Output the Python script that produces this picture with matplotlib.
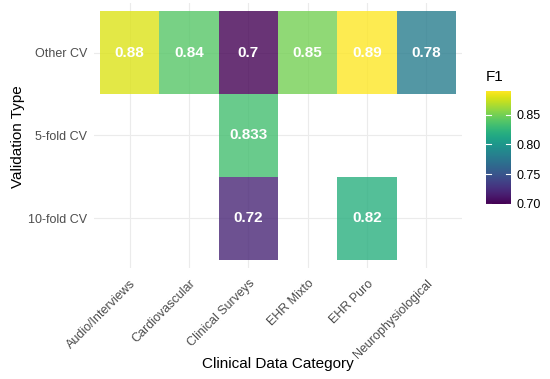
import numpy as np
import matplotlib
matplotlib.use("Agg")
import matplotlib.pyplot as plt
from matplotlib.colors import Normalize
from matplotlib.transforms import ScaledTranslation

plt.rcParams['font.family'] = ['Liberation Sans', 'DejaVu Sans']

# data
categories = ['Audio/Interviews', 'Cardiovascular', 'Clinical Surveys',
              'EHR Mixto', 'EHR Puro', 'Neurophysiological']
validation = ['10-fold CV', '5-fold CV', 'Other CV']

other_cv = [0.88, 0.84, 0.70, 0.85, 0.89, 0.78]
fivefold_cv = [None, None, 0.833, None, None, None]
tenfold_cv = [None, None, 0.72, None, 0.82, None]
labels_other = ['0.88', '0.84', '0.7', '0.85', '0.89', '0.78']
labels_five = [None, None, '0.833', None, None, None]
labels_ten = [None, None, '0.72', None, '0.82', None]

rows = {'10-fold CV': (tenfold_cv, labels_ten),
        '5-fold CV': (fivefold_cv, labels_five),
        'Other CV': (other_cv, labels_other)}

cmap = plt.get_cmap('viridis')
norm = Normalize(vmin=0.70, vmax=0.89)

fig = plt.figure(figsize=(5.5, 3.79), dpi=100)
ax = fig.add_axes([0.171, 0.293, 0.669, 0.699])

for yi, name in enumerate(validation):
    vals, labs = rows[name]
    for xi, v in enumerate(vals):
        if v is None:
            continue
        ax.add_patch(plt.Rectangle((xi - 0.5, yi - 0.5), 1, 1,
                                   facecolor=cmap(norm(v)), alpha=0.8,
                                   edgecolor='none', zorder=2))
        ax.text(xi, yi, labs[xi], color='white', fontweight='bold',
                fontsize=11, ha='center', va='center', zorder=3)

ax.set_xlim(-0.6, 5.6)
ax.set_ylim(-0.6, 2.6)
ax.set_xticks(range(len(categories)))
ax.set_xticklabels(categories, rotation=45, ha='right', va='top',
                   rotation_mode='anchor')
shift = ScaledTranslation(5 / 100, 0, fig.dpi_scale_trans)
for lab in ax.get_xticklabels():
    lab.set_transform(lab.get_transform() + shift)
ax.set_yticks(range(len(validation)))
ax.set_yticklabels(validation)
ax.tick_params(length=0, labelsize=9, labelcolor='#4d4d4d', pad=5)
ax.tick_params(axis='x', pad=7)
ax.grid(True, color='#ebebeb', linewidth=0.8, zorder=0)
ax.set_axisbelow(True)
for s in ax.spines.values():
    s.set_visible(False)

# axis titles placed at fixed figure positions
fig.text(0.506, 0.04, 'Clinical Data Category', fontsize=11,
         ha='center', va='center')
fig.text(0.033, 0.64, 'Validation Type', fontsize=11, rotation=90,
         ha='center', va='center')

# colorbar
cax = fig.add_axes([0.884, 0.462, 0.045, 0.298])
grad = np.linspace(0.70, 0.89, 300).reshape(-1, 1)
cax.imshow(grad, aspect='auto', cmap=cmap, norm=norm, origin='lower',
           extent=[0, 1, 0.70, 0.89])
cb_ticks = [0.70, 0.75, 0.80, 0.85]
for t in cb_ticks:
    cax.plot([0, 0.2], [t, t], color='white', lw=0.8)
    cax.plot([0.8, 1], [t, t], color='white', lw=0.8)
cax.set_xlim(0, 1)
cax.set_ylim(0.70, 0.89)
cax.set_xticks([])
cax.yaxis.tick_right()
cax.set_yticks(cb_ticks)
cax.set_yticklabels(['%.2f' % t for t in cb_ticks])
cax.tick_params(length=0, labelsize=9, pad=4)
for s in cax.spines.values():
    s.set_visible(False)
fig.text(0.884, 0.797, 'F1', fontsize=11, ha='left', va='center')

fig.savefig('out.png', dpi=100)
